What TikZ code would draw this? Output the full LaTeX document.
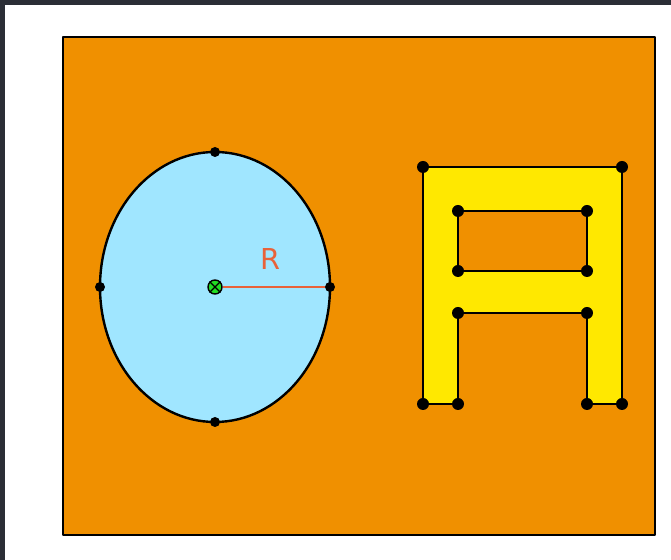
\documentclass[tikz,border=0pt]{standalone}
\usepackage{fontspec}
\setmainfont{DejaVu Sans}
\definecolor{framedark}{HTML}{2B2E36}
\definecolor{boardorange}{HTML}{F09000}
\definecolor{discblue}{HTML}{A0E6FF}
\definecolor{letteryellow}{HTML}{FFE800}
\definecolor{radred}{HTML}{E8623A}
\definecolor{centregreen}{HTML}{22DD22}
\tikzset{
  outline/.style ={draw=black, line width=1.2pt, line join=round},
  pt/.style      ={circle, fill=black, inner sep=0pt, minimum size=6pt},
  rimpt/.style   ={pt, minimum size=5pt},
  centre/.style  ={circle, draw=black, fill=centregreen, inner sep=0pt,
                   minimum size=7pt, line width=0.7pt},
  radius/.style  ={draw=radred, line width=1.4pt},
  rlabel/.style  ={text=radred, font=\Large},
}

\begin{document}
\begin{tikzpicture}[x=0.5pt, y=-0.5pt]
  \useasboundingbox (0,0) rectangle (671,560);
  \fill[framedark] (0,0) rectangle (671,560);
  \fill[white] (5,5) rectangle (671,560);
  \draw[outline, fill=boardorange, line width=1.4pt] (63,37) rectangle (655,535);

  % disc
  \draw[outline, fill=discblue] (215,287) ellipse [x radius=57.5pt, y radius=67.5pt];
  \node[rimpt] (top)   at (215,152) {};
  \node[rimpt] (bot)   at (215,422) {};
  \node[rimpt] (left)  at (100,287) {};
  \node[rimpt] (right) at (330,287) {};
  \node[centre] (c) at (215,287) {};
  \draw[line width=0.7pt] (c.north east) -- (c.south west)
                          (c.north west) -- (c.south east);
  \draw[radius] (c.east) -- (right);
  \node[rlabel] (rtext) at (271,259) {R};

  % letter
  \coordinate (a1) at (423,167);  \coordinate (a2) at (622,167);
  \coordinate (a3) at (622,404);  \coordinate (a4) at (587,404);
  \coordinate (a5) at (587,313);  \coordinate (a6) at (458,313);
  \coordinate (a7) at (458,404);  \coordinate (a8) at (423,404);
  \coordinate (b1) at (458,211);  \coordinate (b2) at (587,211);
  \coordinate (b3) at (587,271);  \coordinate (b4) at (458,271);
  \draw[outline, fill=letteryellow, even odd rule]
    (a1) -- (a2) -- (a3) -- (a4) -- (a5) -- (a6) -- (a7) -- (a8) -- cycle
    (b1) -- (b2) -- (b3) -- (b4) -- cycle;
  \foreach \p in {a1,a2,a3,a4,a5,a6,a7,a8,b1,b2,b3,b4}
    \node[pt] at (\p) {};

\end{tikzpicture}
\end{document}
